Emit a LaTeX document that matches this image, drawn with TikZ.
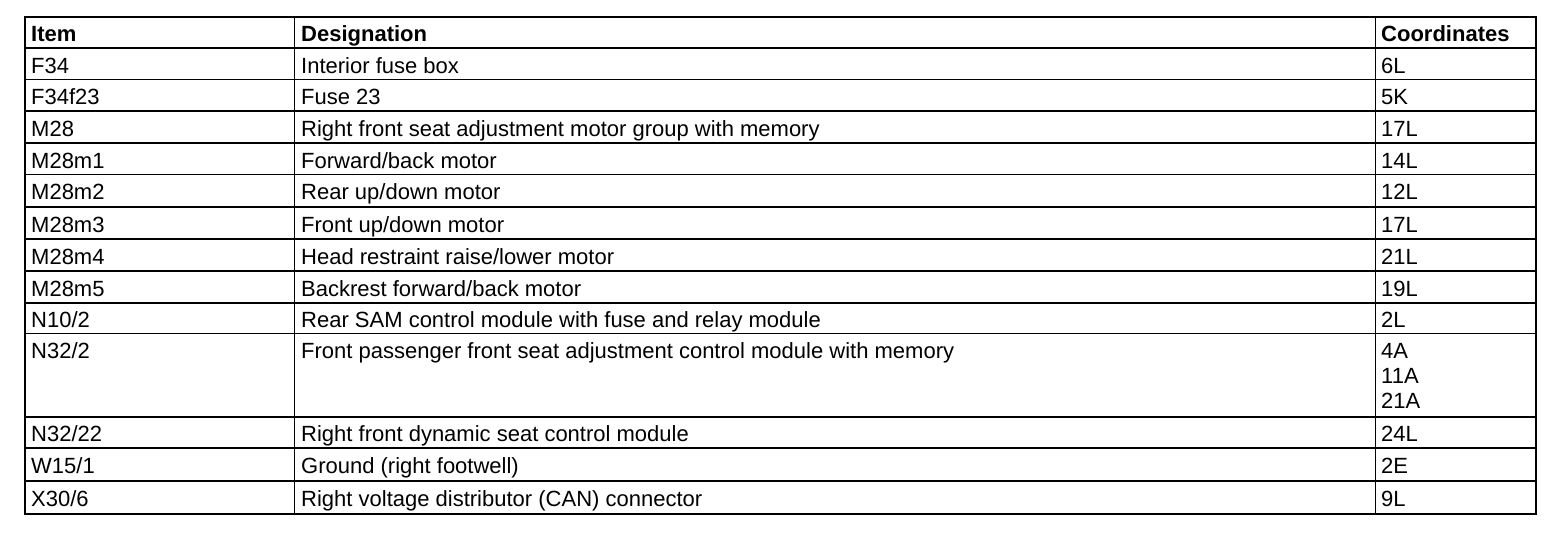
\documentclass[tikz,border=0pt]{standalone}
\usepackage{fontspec}
\setmainfont{Liberation Sans}
\begin{document}
\begin{tikzpicture}[x=1pt,y=-1pt,
  cell/.style={anchor=base west,inner sep=0pt,font=\fontsize{22}{25.3}\selectfont},
  head/.style={anchor=base west,inner sep=0pt,font=\fontsize{22}{25.3}\selectfont\bfseries},
  rule/.style={line width=1.6pt}]
\useasboundingbox[fill=white] (0,0) rectangle (1568,542);
% grid
\draw[rule] (25,17) rectangle (1536,513.7);
\draw[rule] (294.5,17) -- (294.5,513.7);
\draw[rule] (1375.5,17) -- (1375.5,513.7);
\foreach \y in {47.7,79.3,111,142.7,174.5,206.7,239,271,302.7,333.3,416.7,447.7,481}
  \draw[rule] (25,\y) -- (1536,\y);
% header
\node[head] (h1) at (31,41.7) {Item};
\node[head] (h2) at (301,41.7) {Designation};
\node[head] (h3) at (1381,41.7) {Coordinates};
% rows
\node[cell] (a1) at (31,73.0) {F34};
\node[cell] (b1) at (301,73.0) {Interior fuse box};
\node[cell] (c1) at (1381,73.0) {6L};
\node[cell] (a2) at (31,104.6) {F34f23};
\node[cell] (b2) at (301,104.6) {Fuse 23};
\node[cell] (c2) at (1381,104.6) {5K};
\node[cell] (a3) at (31,136.3) {M28};
\node[cell] (b3) at (301,136.3) {Right front seat adjustment motor group with memory};
\node[cell] (c3) at (1381,136.3) {17L};
\node[cell] (a4) at (31,168.0) {M28m1};
\node[cell] (b4) at (301,168.0) {Forward/back motor};
\node[cell] (c4) at (1381,168.0) {14L};
\node[cell] (a5) at (31,199.8) {M28m2};
\node[cell] (b5) at (301,199.8) {Rear up/down motor};
\node[cell] (c5) at (1381,199.8) {12L};
\node[cell] (a6) at (31,232.0) {M28m3};
\node[cell] (b6) at (301,232.0) {Front up/down motor};
\node[cell] (c6) at (1381,232.0) {17L};
\node[cell] (a7) at (31,264.2) {M28m4};
\node[cell] (b7) at (301,264.2) {Head restraint raise/lower motor};
\node[cell] (c7) at (1381,264.2) {21L};
\node[cell] (a8) at (31,296.2) {M28m5};
\node[cell] (b8) at (301,296.2) {Backrest forward/back motor};
\node[cell] (c8) at (1381,296.2) {19L};
\node[cell] (a9) at (31,327.5) {N10/2};
\node[cell] (b9) at (301,327.5) {Rear SAM control module with fuse and relay module};
\node[cell] (c9) at (1381,327.5) {2L};
\node[cell] (a10) at (31,358.3) {N32/2};
\node[cell] (b10) at (301,358.3) {Front passenger front seat adjustment control module with memory};
\node[cell] (c10a) at (1381,358.3) {4A};
\node[cell] (c10b) at (1381,383.6) {11A};
\node[cell] (c10c) at (1381,408.9) {21A};
\node[cell] (a11) at (31,441.7) {N32/22};
\node[cell] (b11) at (301,441.7) {Right front dynamic seat control module};
\node[cell] (c11) at (1381,441.7) {24L};
\node[cell] (a12) at (31,473.3) {W15/1};
\node[cell] (b12) at (301,473.3) {Ground (right footwell)};
\node[cell] (c12) at (1381,473.3) {2E};
\node[cell] (a13) at (31,506.2) {X30/6};
\node[cell] (b13) at (301,506.2) {Right voltage distributor (CAN) connector};
\node[cell] (c13) at (1381,506.2) {9L};
\end{tikzpicture}
\end{document}
